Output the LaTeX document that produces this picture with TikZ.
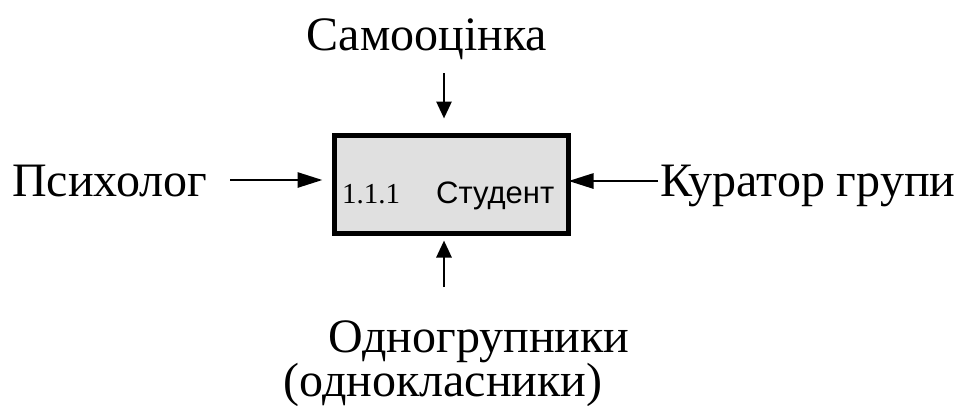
\documentclass[tikz,border=0pt]{standalone}
\usepackage{fontspec}
\setmainfont{Liberation Serif}
\newfontfamily\arialfont{Liberation Sans}
\usetikzlibrary{arrows.meta,calc}
\begin{document}
\begin{tikzpicture}[x=1pt,y=-1pt,
  lbl/.style={font=\fontsize{48}{52}\selectfont, inner sep=0pt, anchor=base},
  vflow/.style={line width=2.8pt, -{Triangle[length=17pt,width=15pt]}},
  hflow/.style={line width=2.8pt, -{Triangle[length=25pt,width=15pt]}},
  procbox/.style={draw, line width=5pt, fill=black!12, minimum width=234pt, minimum height=98pt, inner sep=0pt}]
\useasboundingbox (0,0) rectangle (963,405);
\node[procbox] (box) at (451,184) {};
\node[font=\fontsize{29}{32}\selectfont, inner sep=0pt, anchor=base west] (num) at (342,203) {1.1.1};
\node[font=\arialfont\fontsize{31}{34}\selectfont, inner sep=0pt, anchor=base west] (name) at (436,203) {Студент};
\node[lbl] (top) at (427,50) {Самооцінка};
\node[lbl, anchor=base west] (psy) at (12,196) {Психолог};
\node[lbl, anchor=base west] (kur) at (660,196) {Куратор групи};
\node[lbl] (gr1) at (479,352) {Одногрупники};
\node[lbl] (gr2) at (443,396) {(однокласники)};
\coordinate (tA) at (444,73);
\coordinate (bA) at (444,287);
\coordinate (lA) at (230,180);
\coordinate (rA) at (658,181);
\draw[vflow] (tA) -- ($(tA |- box.north)+(0,-14)$);
\draw[vflow] (bA) -- ($(bA |- box.south)+(0,5)$);
\draw[hflow] (lA) -- ($(lA -| box.west)+(-9,0)$);
\draw[hflow] (rA) -- ($(rA -| box.east)+(-2,0)$);
\end{tikzpicture}
\end{document}
